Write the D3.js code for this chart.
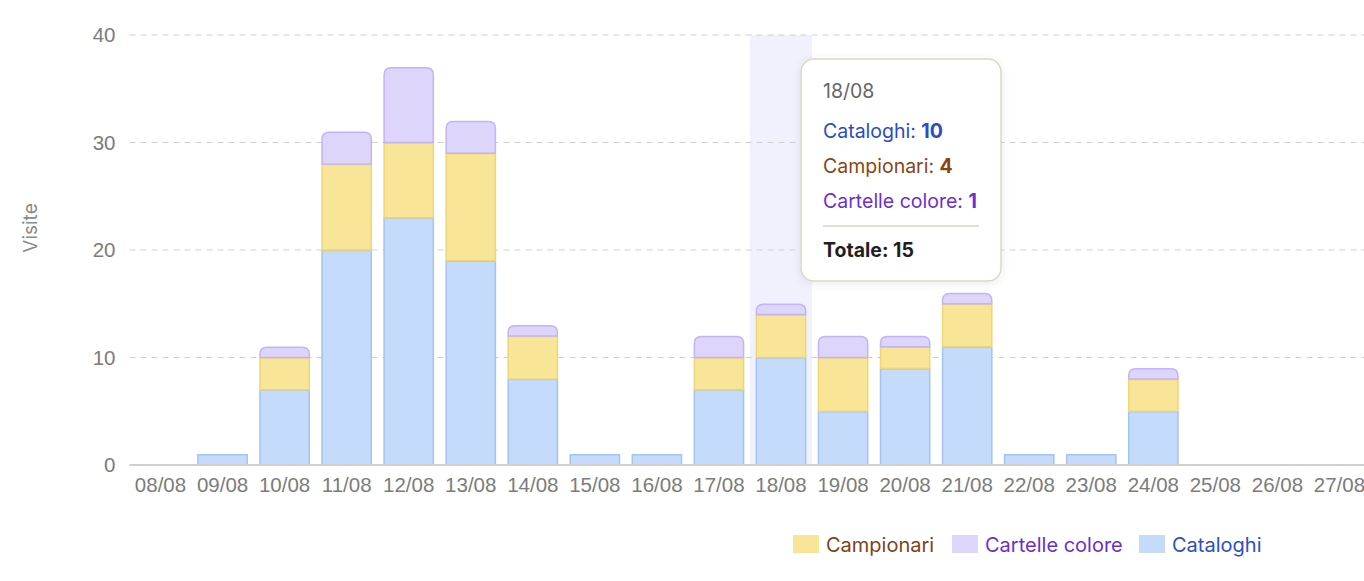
<!DOCTYPE html>
<html>
<head>
<meta charset="utf-8">
<script src="https://cdn.jsdelivr.net/npm/d3@7"></script>
<style>
  html, body { margin: 0; padding: 0; background: #fff; overflow: hidden; }
  svg { display: block; font-family: Inter, "Noto Sans", sans-serif; }
  .tick text { fill: #7c7c7c; font-size: 20.5px; }
</style>
</head>
<body>
<div id="chart"></div>
<script>
var days = ["08/08","09/08","10/08","11/08","12/08","13/08","14/08","15/08","16/08","17/08",
            "18/08","19/08","20/08","21/08","22/08","23/08","24/08","25/08","26/08","27/08"];
var cataloghi  = [0, 1, 7, 20, 23, 19, 8, 1, 1, 7, 10, 5, 9, 11, 1, 1, 5, 0, 0, 0];
var campionari = [0, 0, 3,  8,  7, 10, 4, 0, 0, 3,  4, 5, 2,  4, 0, 0, 3, 0, 0, 0];
var cartelle   = [0, 0, 1,  3,  7,  3, 1, 0, 0, 2,  1, 2, 1,  1, 0, 0, 1, 0, 0, 0];
var yTicks = [0, 10, 20, 30, 40];
var hoverDay = "18/08";

var series = [
  {key: "cataloghi",  name: "Cataloghi",       values: cataloghi,  fill: "#c5dbfb", stroke: "#a3c3f3", text: "#2d4fc2", tip: "#2a4cc4"},
  {key: "campionari", name: "Campionari",      values: campionari, fill: "#f9e597", stroke: "#efd574", text: "#7c4318", tip: "#8a4414"},
  {key: "cartelle",   name: "Cartelle colore", values: cartelle,   fill: "#ddd5fa", stroke: "#c3b4f4", text: "#6a2fd0", tip: "#6a2fd0"}
];
var legendOrder = [1, 2, 0];

var W = 1364, H = 581;
var margin = {top: 35, bottom: 116, left: 129.5};

var rows = days.map(function(d, i) {
  return {day: d, cataloghi: cataloghi[i], campionari: campionari[i], cartelle: cartelle[i]};
});

var xScale = d3.scaleBand()
    .domain(days)
    .range([margin.left, margin.left + 62.05 * 20])
    .paddingInner(0.19)
    .paddingOuter(0.095);

var yScale = d3.scaleLinear()
    .domain([0, 40])
    .range([H - margin.bottom, margin.top]);

var stack = d3.stack().keys(series.map(function(s) { return s.key; }));
var stacked = stack(rows);

var svg = d3.select("#chart").append("svg")
    .attr("width", W)
    .attr("height", H);

// hover band
svg.append("rect")
    .attr("x", xScale(hoverDay) - xScale.step() * xScale.paddingInner() / 2)
    .attr("y", yScale(40))
    .attr("width", xScale.step())
    .attr("height", yScale(0) - yScale(40))
    .attr("fill", "#f1f1fd");

// grid
svg.append("g")
  .selectAll("line")
  .data(yTicks.filter(function(t) { return t > 0; }))
  .enter().append("line")
    .attr("x1", margin.left)
    .attr("x2", W)
    .attr("y1", function(d) { return yScale(d); })
    .attr("y2", function(d) { return yScale(d); })
    .attr("stroke", "#cfcfcf")
    .attr("stroke-dasharray", "6,5");

// y axis
var yAxis = svg.append("g")
    .attr("transform", "translate(" + margin.left + ",0)")
    .call(d3.axisLeft(yScale).tickValues(yTicks).tickSize(0).tickPadding(14));
yAxis.select(".domain").remove();

svg.append("text")
    .attr("transform", "translate(37,228) rotate(-90)")
    .attr("text-anchor", "middle")
    .attr("fill", "#8a8a8a")
    .style("font-size", "19px")
    .text("Visite");

// bars
function roundTop(x, y, w, h, r) {
  r = Math.min(r, h);
  return "M" + x + "," + (y + h) +
    "V" + (y + r) + "Q" + x + "," + y + " " + (x + r) + "," + y +
    "H" + (x + w - r) + "Q" + (x + w) + "," + y + " " + (x + w) + "," + (y + r) +
    "V" + (y + h) + "Z";
}

stacked.forEach(function(layer, li) {
  var s = series[li];
  svg.append("g")
    .selectAll("path")
    .data(layer.filter(function(d) { return d[1] > d[0]; }))
    .enter().append("path")
      .attr("d", function(d) {
        var x = xScale(d.data.day) + 0.5, w = xScale.bandwidth() - 1;
        var y = yScale(d[1]) + 0.5, h = yScale(d[0]) - yScale(d[1]) - 0.5;
        return roundTop(x, y, w, h, li === 2 ? 7 : 0);
      })
      .attr("fill", s.fill)
      .attr("stroke", s.stroke)
      .attr("stroke-width", 1.5);
});

// x axis
var xAxis = svg.append("g")
    .attr("transform", "translate(0," + yScale(0) + ")")
    .call(d3.axisBottom(xScale).tickSize(0).tickPadding(12));
xAxis.select(".domain")
    .attr("d", "M" + margin.left + ",0H" + W)
    .attr("stroke", "#d0d0d0")
    .attr("stroke-width", 2);

// legend
var legendX = [793, 952, 1139];
var legend = svg.append("g");
legendOrder.forEach(function(si, k) {
  var s = series[si];
  legend.append("rect")
      .attr("x", legendX[k]).attr("y", 535)
      .attr("width", 26).attr("height", 18)
      .attr("fill", s.fill);
  legend.append("text")
      .attr("x", legendX[k] + 33).attr("y", 552)
      .attr("fill", s.text)
      .style("font-size", "20px")
      .text(s.name);
});

// tooltip
var hi = days.indexOf(hoverDay);
var defs = svg.append("defs");
var f = defs.append("filter").attr("id", "shadow")
    .attr("x", "-20%").attr("y", "-20%").attr("width", "140%").attr("height", "140%");
f.append("feDropShadow").attr("dx", 0).attr("dy", 2).attr("stdDeviation", 4)
    .attr("flood-color", "#000").attr("flood-opacity", 0.08);

var tip = svg.append("g").attr("transform", "translate(801,59)");
tip.append("rect")
    .attr("width", 200).attr("height", 222).attr("rx", 13)
    .attr("fill", "#fff").attr("stroke", "#ddd8c6").attr("stroke-width", 1.5)
    .attr("filter", "url(#shadow)");
tip.append("text")
    .attr("x", 22).attr("y", 39)
    .attr("fill", "#666").style("font-size", "19.5px")
    .text(hoverDay);
series.forEach(function(s, i) {
  var t = tip.append("text")
      .attr("x", 22).attr("y", 79 + i * 35)
      .attr("fill", s.tip).style("font-size", "19.5px");
  t.append("tspan").text(s.name + ": ");
  t.append("tspan").attr("font-weight", 700).text(s.values[hi]);
});
tip.append("line")
    .attr("x1", 22).attr("x2", 178).attr("y1", 167).attr("y2", 167)
    .attr("stroke", "#d9d6cc").attr("stroke-width", 1.5);
tip.append("text")
    .attr("x", 22).attr("y", 198)
    .attr("fill", "#1f1f1f").attr("font-weight", 700).style("font-size", "19.5px")
    .text("Totale: " + (cataloghi[hi] + campionari[hi] + cartelle[hi]));
</script>
</body>
</html>
